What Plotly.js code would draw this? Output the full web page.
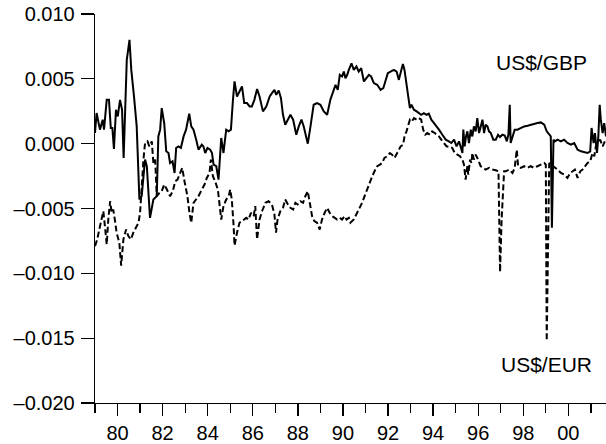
<!DOCTYPE html>
<html>
<head>
<meta charset="utf-8">
<script src="https://cdn.plot.ly/plotly-3.0.1.min.js"></script>
<style>html,body{margin:0;padding:0;background:#fff;}#chart{width:606px;height:444px;}</style>
</head>
<body>
<div id="chart"></div>
<script>
// US$/GBP series (year, value)
var gbpYear = [79.00,79.07,79.22,79.34,79.40,79.52,79.62,79.70,79.77,79.84,79.93,80.01,80.11,80.20,80.27,80.41,80.53,80.61,80.73,80.85,80.97,81.07,81.22,81.30,81.44,81.59,81.74,81.81,81.89,81.96,82.07,82.16,82.26,82.33,82.44,82.53,82.60,82.70,82.81,82.93,83.04,83.18,83.27,83.37,83.49,83.59,83.74,83.81,83.89,83.99,84.11,84.19,84.26,84.38,84.48,84.60,84.70,84.82,84.93,85.03,85.12,85.19,85.30,85.41,85.52,85.62,85.74,85.86,85.96,86.07,86.19,86.30,86.45,86.60,86.75,86.85,86.96,87.04,87.15,87.25,87.34,87.44,87.56,87.67,87.79,87.93,88.04,88.16,88.26,88.33,88.44,88.56,88.63,88.70,88.85,89.00,89.15,89.30,89.44,89.56,89.67,89.77,89.86,89.96,90.04,90.11,90.19,90.26,90.33,90.38,90.48,90.60,90.70,90.81,90.93,91.04,91.15,91.25,91.37,91.52,91.67,91.79,91.89,91.99,92.11,92.26,92.38,92.48,92.59,92.66,92.73,92.82,92.90,92.97,93.04,93.15,93.27,93.37,93.47,93.59,93.71,93.81,93.92,94.04,94.16,94.26,94.41,94.56,94.70,94.81,94.93,95.04,95.15,95.22,95.30,95.34,95.40,95.46,95.52,95.59,95.67,95.74,95.81,95.89,95.96,96.04,96.11,96.19,96.26,96.33,96.41,96.48,96.56,96.67,96.78,96.88,96.97,97.07,97.18,97.27,97.34,97.40,97.44,97.52,97.62,97.74,97.89,98.04,98.19,98.33,98.48,98.63,98.78,98.93,99.04,99.15,99.22,99.27,99.34,99.40,99.52,99.67,99.81,99.96,100.11,100.26,100.41,100.56,100.70,100.85,100.97,101.03,101.12,101.18,101.27,101.33,101.39,101.44,101.52,101.59,101.67];
var gbpVal = [0.00082,0.00236,0.00108,0.00185,0.00108,0.00338,0.00338,0.00121,0.00121,-0.00041,0.00262,0.00210,0.00338,0.00262,-0.00110,0.00646,0.00800,0.00569,0.00364,0.00133,-0.00431,-0.00405,-0.00123,-0.00174,-0.00572,-0.00431,-0.00405,0.00056,0.00108,0.00274,0.00159,-0.00059,-0.00072,-0.00149,-0.00136,-0.00226,-0.00033,-0.00021,-0.00033,0.00056,0.00108,0.00231,0.00133,0.00108,0.00031,-0.00046,-0.00008,-0.00021,-0.00072,-0.00033,-0.00046,-0.00072,-0.00162,-0.00174,-0.00277,0.00044,-0.00072,0.00108,0.00095,0.00108,0.00338,0.00480,0.00364,0.00403,0.00441,0.00313,0.00313,0.00287,0.00287,0.00338,0.00421,0.00364,0.00249,0.00287,0.00364,0.00390,0.00415,0.00377,0.00410,0.00351,0.00223,0.00146,0.00185,0.00223,0.00185,0.00069,0.00133,0.00185,0.00133,0.00082,0.00000,0.00133,0.00236,0.00300,0.00313,0.00300,0.00249,0.00223,0.00338,0.00403,0.00454,0.00415,0.00531,0.00518,0.00556,0.00505,0.00531,0.00569,0.00595,0.00620,0.00569,0.00595,0.00556,0.00582,0.00480,0.00505,0.00531,0.00518,0.00467,0.00454,0.00415,0.00428,0.00480,0.00544,0.00556,0.00569,0.00556,0.00492,0.00569,0.00615,0.00569,0.00467,0.00338,0.00274,0.00300,0.00262,0.00249,0.00236,0.00223,0.00236,0.00223,0.00231,0.00185,0.00159,0.00133,0.00108,0.00069,0.00031,0.00018,0.00005,0.00031,-0.00021,0.00018,-0.00033,-0.00072,0.00108,-0.00021,0.00056,0.00095,0.00005,0.00108,0.00056,0.00133,0.00095,0.00197,0.00082,0.00133,0.00185,0.00082,0.00146,0.00133,0.00095,0.00082,0.00031,0.00031,0.00069,0.00051,0.00069,0.00062,0.00018,0.00069,0.00300,0.00005,0.00056,0.00108,0.00108,0.00121,0.00133,0.00138,0.00146,0.00154,0.00159,0.00164,0.00146,0.00095,0.00069,0.00056,-0.00649,0.00031,0.00018,0.00031,0.00018,0.00031,0.00005,-0.00008,0.00005,-0.00046,-0.00059,-0.00067,-0.00072,-0.00059,0.00121,0.00005,0.00082,-0.00072,0.00056,0.00300,0.00185,0.00082,0.00159,0.00056];

// US$/EUR series (year, value)
var eurYear = [79.00,79.10,79.19,79.27,79.37,79.44,79.52,79.59,79.67,79.74,79.81,79.89,79.96,80.08,80.16,80.26,80.38,80.48,80.59,80.70,80.82,80.93,81.00,81.07,81.15,81.22,81.33,81.41,81.52,81.59,81.67,81.74,81.86,81.96,82.07,82.19,82.33,82.45,82.56,82.66,82.78,82.87,82.97,83.10,83.19,83.27,83.37,83.49,83.59,83.74,83.86,83.96,84.08,84.14,84.23,84.33,84.45,84.60,84.70,84.82,84.93,85.00,85.07,85.15,85.19,85.30,85.41,85.52,85.62,85.71,85.81,85.92,86.04,86.11,86.19,86.30,86.41,86.56,86.70,86.85,86.96,87.03,87.10,87.22,87.34,87.44,87.56,87.67,87.79,87.89,87.99,88.11,88.23,88.33,88.44,88.53,88.63,88.73,88.85,88.97,89.07,89.19,89.30,89.41,89.52,89.64,89.74,89.86,89.96,90.07,90.16,90.26,90.33,90.48,90.60,90.70,90.85,90.96,91.07,91.19,91.30,91.40,91.52,91.64,91.74,91.84,91.96,92.08,92.18,92.29,92.41,92.56,92.67,92.73,92.82,92.91,92.97,93.06,93.15,93.27,93.37,93.47,93.56,93.65,93.74,93.86,93.96,94.07,94.16,94.26,94.36,94.48,94.60,94.72,94.85,94.96,95.07,95.19,95.30,95.37,95.44,95.52,95.56,95.64,95.70,95.74,95.81,95.89,95.96,96.04,96.11,96.23,96.33,96.48,96.63,96.78,96.90,96.97,97.04,97.15,97.22,97.37,97.52,97.62,97.71,97.77,97.89,98.04,98.19,98.33,98.48,98.63,98.78,98.93,99.00,99.04,99.15,99.25,99.37,99.52,99.67,99.81,99.96,100.08,100.19,100.29,100.41,100.53,100.63,100.73,100.85,100.97,101.07,101.15,101.22,101.30,101.41,101.52,101.62];
var eurVal = [-0.00790,-0.00738,-0.00662,-0.00585,-0.00521,-0.00636,-0.00777,-0.00585,-0.00444,-0.00533,-0.00508,-0.00597,-0.00687,-0.00764,-0.00940,-0.00738,-0.00662,-0.00713,-0.00738,-0.00687,-0.00649,-0.00610,-0.00533,-0.00328,-0.00123,0.00005,0.00018,-0.00021,0.00018,-0.00149,-0.00123,-0.00405,-0.00379,-0.00367,-0.00315,-0.00354,-0.00405,-0.00367,-0.00290,-0.00277,-0.00226,-0.00187,-0.00290,-0.00405,-0.00533,-0.00610,-0.00456,-0.00431,-0.00405,-0.00354,-0.00315,-0.00264,-0.00226,-0.00123,-0.00251,-0.00290,-0.00354,-0.00585,-0.00482,-0.00431,-0.00405,-0.00354,-0.00431,-0.00636,-0.00785,-0.00687,-0.00610,-0.00597,-0.00585,-0.00572,-0.00585,-0.00533,-0.00559,-0.00482,-0.00738,-0.00585,-0.00521,-0.00456,-0.00444,-0.00469,-0.00546,-0.00687,-0.00585,-0.00521,-0.00495,-0.00431,-0.00469,-0.00495,-0.00508,-0.00456,-0.00469,-0.00444,-0.00456,-0.00405,-0.00367,-0.00456,-0.00559,-0.00597,-0.00610,-0.00662,-0.00585,-0.00533,-0.00495,-0.00533,-0.00559,-0.00572,-0.00585,-0.00572,-0.00585,-0.00559,-0.00585,-0.00572,-0.00610,-0.00585,-0.00546,-0.00508,-0.00456,-0.00405,-0.00354,-0.00290,-0.00251,-0.00213,-0.00174,-0.00162,-0.00149,-0.00110,-0.00097,-0.00072,-0.00085,-0.00110,-0.00072,-0.00021,-0.00008,0.00056,0.00095,0.00146,0.00185,0.00172,0.00197,0.00185,0.00197,0.00185,0.00108,0.00069,0.00082,0.00069,0.00095,0.00082,0.00069,0.00056,0.00031,0.00005,-0.00021,-0.00021,-0.00033,-0.00072,-0.00085,-0.00097,-0.00123,-0.00162,-0.00277,-0.00174,-0.00238,-0.00123,-0.00149,-0.00072,-0.00123,-0.00085,-0.00110,-0.00149,-0.00174,-0.00187,-0.00200,-0.00187,-0.00200,-0.00205,-0.00213,-0.00990,-0.00580,-0.00213,-0.00213,-0.00200,-0.00226,-0.00187,-0.00046,-0.00174,-0.00187,-0.00174,-0.00187,-0.00174,-0.00187,-0.00174,-0.00162,-0.00149,-0.00162,-0.01520,-0.00149,-0.00162,-0.00174,-0.00200,-0.00226,-0.00238,-0.00264,-0.00226,-0.00213,-0.00200,-0.00264,-0.00213,-0.00200,-0.00174,-0.00149,-0.00136,-0.00072,-0.00097,-0.00021,0.00005,0.00031,-0.00021,0.00018];

// axis ticks
var xTickVals = [80,82,84,86,88,90,92,94,96,98,100];
var xTickText = ['80','82','84','86','88','90','92','94','96','98','00'];
var yTickVals = [-0.020,-0.015,-0.010,-0.005,0.000,0.005,0.010];
var yTickText = ['\u20130.020','\u20130.015','\u20130.010','\u20130.005','0.000','0.005','0.010'];

var seriesNames = ['US$/GBP','US$/EUR'];

var font = 'Liberation Sans, Arial, Helvetica, sans-serif';

var traces = [
  {x: gbpYear, y: gbpVal, name: seriesNames[0], type: 'scatter', mode: 'lines',
   line: {color: '#000', width: 2}},
  {x: eurYear, y: eurVal, name: seriesNames[1], type: 'scatter', mode: 'lines',
   line: {color: '#000', width: 2, dash: '6px,3px'}}
];

var layout = {
  width: 606, height: 444,
  margin: {l: 95, r: 0, t: 14, b: 41, pad: 0},
  paper_bgcolor: '#fff', plot_bgcolor: '#fff',
  showlegend: false,
  font: {family: font, color: '#000', size: 20},
  xaxis: {
    range: [79, 101.67], showline: true, linecolor: '#000', linewidth: 1.3,
    showgrid: false, zeroline: false, ticks: 'outside', ticklen: 12, tickwidth: 1.3,
    tickcolor: '#000', tickmode: 'array', tickvals: xTickVals, ticktext: xTickText,
    tickfont: {size: 20, family: font, color: '#000'},
    minor: {tickmode: 'linear', tick0: 79, dtick: 1, ticks: 'outside', ticklen: 9, tickwidth: 1.3, tickcolor: '#000', showgrid: false}
  },
  yaxis: {
    range: [-0.020, 0.010], showline: true, linecolor: '#000', linewidth: 1.3,
    showgrid: false, zeroline: false, ticks: 'outside', ticklen: 13, tickwidth: 1.3,
    tickcolor: '#000', tickmode: 'array', tickvals: yTickVals, ticktext: yTickText,
    ticklabelstandoff: 2,
    tickfont: {size: 20, family: font, color: '#000'}
  },
  annotations: [
    {text: seriesNames[0], xref: 'x', yref: 'y', x: 98.83, y: 0.00623, showarrow: false,
     xanchor: 'center', yanchor: 'middle', font: {size: 21, family: font, color: '#000'}},
    {text: seriesNames[1], xref: 'x', yref: 'y', x: 99.03, y: -0.01705, showarrow: false,
     xanchor: 'center', yanchor: 'middle', font: {size: 21, family: font, color: '#000'}}
  ]
};

Plotly.newPlot('chart', traces, layout, {staticPlot: true, displayModeBar: false});
</script>
</body>
</html>
